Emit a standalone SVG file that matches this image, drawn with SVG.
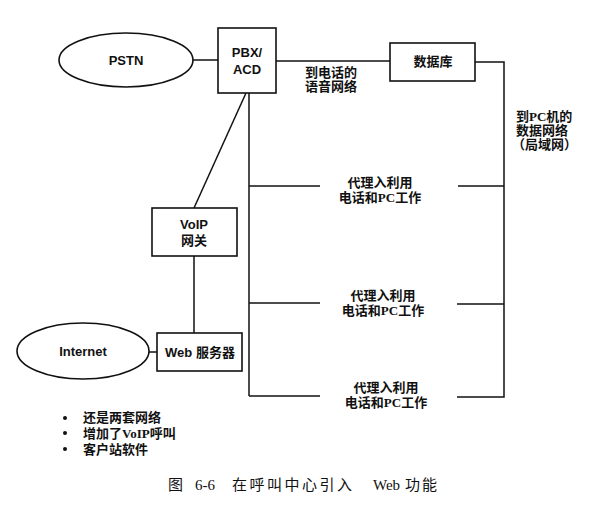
<svg xmlns="http://www.w3.org/2000/svg" width="598" height="520" viewBox="0 0 598 520">
<style>
.bg{fill:#fff}
.shape{fill:#fff;stroke:#111;stroke-width:1.6}
.ln{fill:none;stroke:#111;stroke-width:1.5}
.en{font-family:"Liberation Sans","Noto Sans CJK SC",sans-serif;font-size:13px;font-weight:bold;fill:#111;text-anchor:middle}
.zh{font-family:"Liberation Serif","Noto Sans CJK SC",serif;font-size:13px;font-weight:bold;fill:#111}
.mid{text-anchor:middle}
.cap{font-family:"Liberation Serif","Noto Sans CJK SC",serif;font-size:15px;fill:#111}
</style>
<rect class="bg" x="0" y="0" width="598" height="520"/>
<g id="connectors">
<line class="ln" x1="193" y1="60" x2="218" y2="60"/>
<line class="ln" x1="276" y1="61" x2="390" y2="61"/>
<polyline class="ln" points="475,62 504,62 504,397 457,397"/>
<line class="ln" x1="249" y1="93" x2="249" y2="396"/>
<line class="ln" x1="246" y1="93" x2="194" y2="208"/>
<line class="ln" x1="249" y1="186" x2="320" y2="186"/>
<line class="ln" x1="458" y1="186" x2="504" y2="186"/>
<line class="ln" x1="249" y1="303" x2="320" y2="303"/>
<line class="ln" x1="457" y1="304" x2="504" y2="304"/>
<line class="ln" x1="249" y1="396" x2="320" y2="396"/>
<line class="ln" x1="194" y1="256" x2="194" y2="333"/>
<line class="ln" x1="148" y1="352" x2="157" y2="352"/>
</g>
<g id="pstn">
<ellipse class="shape" cx="126" cy="60" rx="67" ry="27"/>
<text class="en" x="126" y="65">PSTN</text>
</g>
<g id="pbx">
<rect class="shape" x="218" y="28" width="58" height="65"/>
<text class="en" x="247" y="57">PBX/</text>
<text class="en" x="247" y="74">ACD</text>
</g>
<g id="database">
<rect class="shape" x="390" y="43" width="85" height="38"/>
<text class="zh mid" x="433" y="66">数据库</text>
</g>
<g id="voice-label">
<text class="zh" x="305" y="77">到电话的</text>
<text class="zh" x="305" y="91">语音网络</text>
</g>
<g id="data-label">
<text class="zh" x="516" y="121">到PC机的</text>
<text class="zh" x="516" y="135">数据网络</text>
<text class="zh" x="512" y="149">（局域网）</text>
</g>
<g id="voip">
<rect class="shape" x="152" y="208" width="85" height="48"/>
<text class="en" x="194" y="229">VoIP</text>
<text class="zh mid" x="194" y="245">网关</text>
</g>
<g id="agent1">
<text class="zh mid" x="380" y="187">代理入利用</text>
<text class="zh mid" x="380" y="202">电话和PC工作</text>
</g>
<g id="agent2">
<text class="zh mid" x="383" y="300">代理入利用</text>
<text class="zh mid" x="383" y="315">电话和PC工作</text>
</g>
<g id="agent3">
<text class="zh mid" x="386" y="392">代理入利用</text>
<text class="zh mid" x="386" y="407">电话和PC工作</text>
</g>
<g id="internet">
<ellipse class="shape" cx="83" cy="351" rx="66" ry="28"/>
<text class="en" x="83" y="356">Internet</text>
</g>
<g id="webserver">
<rect class="shape" x="157" y="333" width="85" height="38"/>
<text class="en" x="200" y="357">Web <tspan class="zh" style="font-weight:bold">服务器</tspan></text>
</g>
<g id="bullets">
<circle cx="65" cy="418" r="2" fill="#111"/>
<circle cx="65" cy="433" r="2" fill="#111"/>
<circle cx="65" cy="449" r="2" fill="#111"/>
<text class="zh" x="83" y="422">还是两套网络</text>
<text class="zh" x="83" y="438">增加了VoIP呼叫</text>
<text class="zh" x="83" y="454">客户站软件</text>
</g>
<g id="caption">
<text class="cap" y="490"><tspan x="168">图</tspan><tspan x="195">6-6</tspan><tspan x="232" letter-spacing="2.5">在呼叫中心引入</tspan><tspan x="373">Web</tspan><tspan x="405" letter-spacing="2">功能</tspan></text>
</g>
</svg>
